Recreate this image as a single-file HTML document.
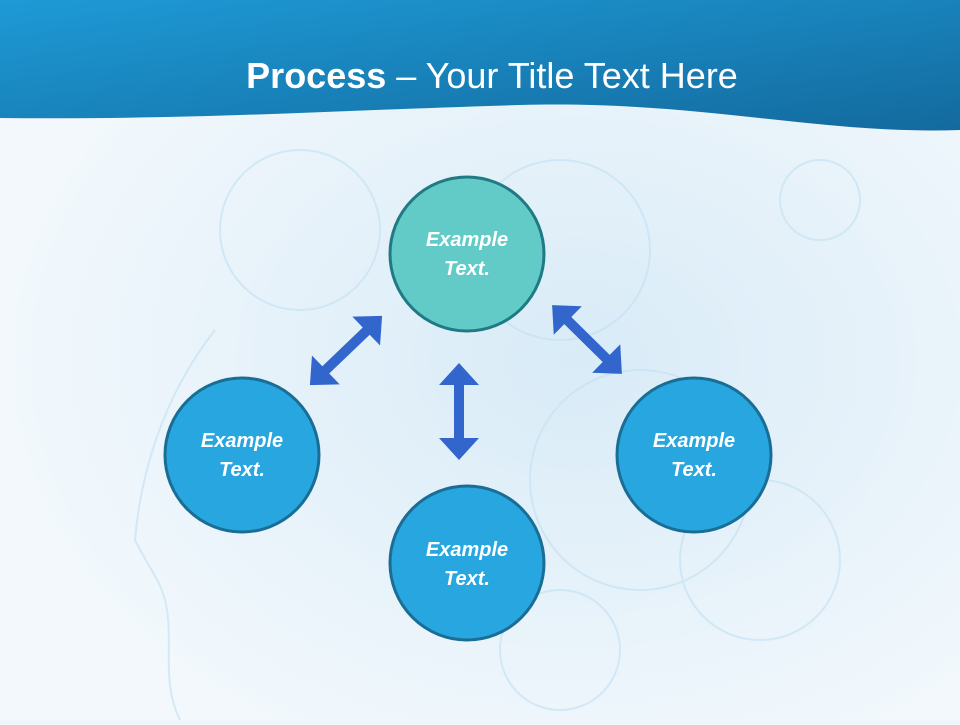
<!DOCTYPE html>
<html><head><meta charset="utf-8"><style>
html,body{margin:0;padding:0;}
body{width:960px;height:720px;overflow:hidden;background:#eef6fb;font-family:"Liberation Sans",sans-serif;}
</style></head><body>
<svg width="960" height="720" viewBox="0 0 960 720" xmlns="http://www.w3.org/2000/svg">
<defs>
<linearGradient id="hg" x1="0" y1="0" x2="1" y2="1">
<stop offset="0" stop-color="#1e9ad6"/><stop offset="1" stop-color="#136a9e"/>
</linearGradient>
<radialGradient id="bg" cx="0.6" cy="0.5" r="0.6">
<stop offset="0" stop-color="#d8ebf7"/><stop offset="1" stop-color="#f2f8fc"/>
</radialGradient>
</defs>
<rect width="960" height="720" fill="url(#bg)"/>
<g fill="none" stroke="#c6e2f3" stroke-width="2" opacity="0.7">
<circle cx="560" cy="250" r="90"/><circle cx="640" cy="480" r="110"/><circle cx="300" cy="230" r="80"/>
<circle cx="820" cy="200" r="40"/><circle cx="760" cy="560" r="80"/><circle cx="560" cy="650" r="60"/>
<path d="M215 330 C160 400 140 480 135 540 C150 570 160 580 165 600 C175 640 160 680 180 720"/>
</g>
<path d="M0 0 H960 V130 C820 135 700 100 520 105 C340 110 200 120 0 118 Z" fill="url(#hg)"/>
<text x="492" y="88" text-anchor="middle" font-size="36" fill="#fff"><tspan font-weight="bold">Process</tspan> – Your Title Text Here</text>
<g fill="#3366cc">
<polygon transform="translate(459,411.5) rotate(90)" points="-48.5,0 -26.5,-20 -26.5,-5 26.5,-5 26.5,-20 48.5,0 26.5,20 26.5,5 -26.5,5 -26.5,20"/>
<polygon transform="translate(346,350.5) rotate(-43.8)" points="-50,0 -28,-20 -28,-5 28,-5 28,-20 50,0 28,20 28,5 -28,5 -28,20"/>
<polygon transform="translate(587,339.5) rotate(44.6)" points="-49,0 -27,-20 -27,-5 27,-5 27,-20 49,0 27,20 27,5 -27,5 -27,20"/>
</g>
<g stroke-width="3" font-style="italic" font-weight="bold" font-size="20" fill="#fff" text-anchor="middle">
<circle cx="467" cy="254" r="77" fill="#62cbc8" stroke="#1f7a84"/>
<circle cx="242" cy="455" r="77" fill="#27a6e0" stroke="#1a6d95"/>
<circle cx="467" cy="563" r="77" fill="#27a6e0" stroke="#1a6d95"/>
<circle cx="694" cy="455" r="77" fill="#27a6e0" stroke="#1a6d95"/>
<g stroke="none">
<text x="467" y="246">Example</text><text x="467" y="275">Text.</text>
<text x="242" y="447">Example</text><text x="242" y="476">Text.</text>
<text x="467" y="556">Example</text><text x="467" y="585">Text.</text>
<text x="694" y="447">Example</text><text x="694" y="476">Text.</text>
</g>
</g>
</svg>
</body></html>
